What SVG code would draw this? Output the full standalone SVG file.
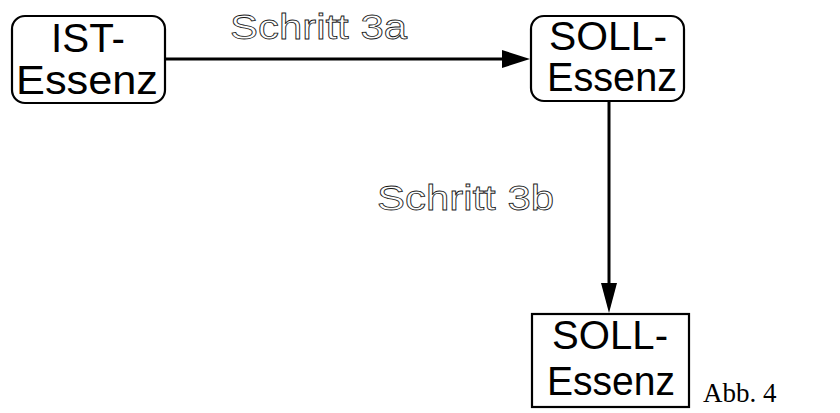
<svg xmlns="http://www.w3.org/2000/svg" width="840" height="413" viewBox="0 0 840 413">
  <style>
    .box { fill: #fff; stroke: #000; stroke-width: 2.2; }
    .lbl { font-family: "Liberation Sans", Arial, sans-serif; font-size: 40px; fill: #000; text-anchor: middle; }
    .step { font-family: "Liberation Sans", Arial, sans-serif; font-size: 35px; fill: #fff; stroke: #1a1a1a; stroke-width: 0.8; }
    .cap { font-family: "Liberation Serif", "Times New Roman", serif; font-size: 27px; fill: #000; }
    .edge { stroke: #000; stroke-width: 3; fill: none; }
    .head { fill: #000; }
  </style>
  <rect width="840" height="413" fill="#fff"/>

  <g id="connectors">
    <line class="edge" x1="165" y1="59" x2="504" y2="59"/>
    <polygon class="head" points="530,59 502,50 502,68"/>
    <line class="edge" x1="609" y1="101" x2="609" y2="285"/>
    <polygon class="head" points="609,313 601,283 617,283"/>
    <!-- outlined step labels, stretched to the wide outline face -->
    <text class="step" x="230" y="39" textLength="177" lengthAdjust="spacingAndGlyphs">Schritt 3a</text>
    <text class="step" x="377" y="210" textLength="177" lengthAdjust="spacingAndGlyphs">Schritt 3b</text>
  </g>

  <g id="ist-essenz">
    <rect class="box" x="12" y="16" width="153" height="87" rx="13"/>
    <text class="lbl" x="88" y="52" textLength="74" lengthAdjust="spacingAndGlyphs">IST-</text>
    <text class="lbl" x="87" y="94" textLength="142" lengthAdjust="spacingAndGlyphs">Essenz</text>
  </g>

  <g id="soll-essenz-1">
    <rect class="box" x="531" y="16" width="153" height="85" rx="13"/>
    <text class="lbl" x="608" y="50" textLength="118" lengthAdjust="spacingAndGlyphs">SOLL-</text>
    <text class="lbl" x="612" y="91" textLength="130" lengthAdjust="spacingAndGlyphs">Essenz</text>
  </g>

  <g id="soll-essenz-2">
    <rect class="box" x="532" y="314" width="157" height="93"/>
    <text class="lbl" x="610" y="349" textLength="116" lengthAdjust="spacingAndGlyphs">SOLL-</text>
    <text class="lbl" x="611" y="395" textLength="128" lengthAdjust="spacingAndGlyphs">Essenz</text>
  </g>

  <text class="cap" x="703" y="402">Abb. 4</text>
</svg>
